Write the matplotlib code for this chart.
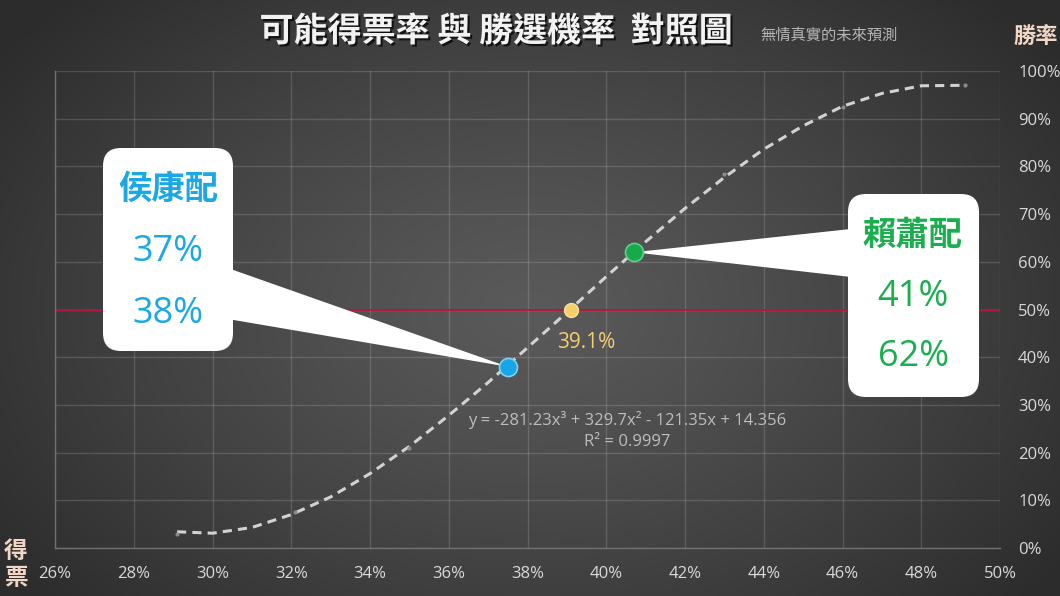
import matplotlib
matplotlib.use('Agg')
import matplotlib.pyplot as plt
import matplotlib.patheffects as pe
import matplotlib.transforms as mtransforms
from matplotlib.patches import FancyBboxPatch, Polygon
import numpy as np

# ---------------- data ----------------
vote_share = [29.1, 30, 31, 32, 33, 34, 35, 36, 37, 38, 39, 40, 41, 42, 43, 44, 45, 46, 47, 48, 49.1]
win_prob = [3.4, 3.1, 4.3, 7.0, 10.7, 15.6, 21.3, 27.8, 34.7, 42.0, 49.4, 56.9, 64.2, 71.2, 77.7, 83.6, 88.5, 92.6, 95.3, 96.9, 97.0]

sample_x = [29.1, 32.1, 35.0, 43.0, 46.0, 49.1]
sample_y = [3.0, 7.5, 21.0, 78.5, 92.4, 97.0]

hou_point = (37.5, 38.0)
even_point = (39.1, 50.0)
lai_point = (40.7, 62.0)

xticks = [26, 28, 30, 32, 34, 36, 38, 40, 42, 44, 46, 48, 50]
xtick_labels = ['26%', '28%', '30%', '32%', '34%', '36%', '38%', '40%', '42%', '44%', '46%', '48%', '50%']
yticks = [0, 10, 20, 30, 40, 50, 60, 70, 80, 90, 100]
ytick_labels = ['0%', '10%', '20%', '30%', '40%', '50%', '60%', '70%', '80%', '90%', '100%']

title = '可能得票率 與 勝選機率  對照圖'
subtitle = '無情真實的未來預測'
hou_name, hou_vote, hou_win = '侯康配', '37%', '38%'
lai_name, lai_vote, lai_win = '賴蕭配', '41%', '62%'
even_label = '39.1%'
eq_label = 'y = -281.23x³ + 329.7x² - 121.35x + 14.356'
r2_label = 'R² = 0.9997'

# ---------------- figure ----------------
plt.rcParams['font.family'] = ['Open Sans', 'Noto Sans CJK TC', 'DejaVu Sans']
CJK = ['Noto Sans CJK TC', 'DejaVu Sans']
W, H = 1060, 596
fig = plt.figure(figsize=(W / 100, H / 100), dpi=100)

# radial gradient background
bg = fig.add_axes([0, 0, 1, 1], zorder=0)
gx = np.linspace(0, 1, 530)
gy = np.linspace(0, 1, 298)
GX, GY = np.meshgrid(gx, gy)
r = np.sqrt(((GX - 0.50) / 0.62) ** 2 + ((GY - 0.52) / 0.75) ** 2)
r = np.clip(r, 0, 1)
c_in, c_out = 0x5a / 255, 0x2c / 255
val = c_in + (c_out - c_in) * r ** 1.2
img = np.dstack([val, val, val])
bg.imshow(img, extent=[0, 1, 0, 1], aspect='auto', origin='upper')
bg.set_xlim(0, 1)
bg.set_ylim(0, 1)
bg.axis('off')

ax = fig.add_axes([55 / W, 48 / H, 945 / W, 477 / H], zorder=1)
ax.set_facecolor('none')
ax.set_xlim(26, 50)
ax.set_ylim(0, 100)

ax.set_xticks(xticks)
ax.set_xticklabels(xtick_labels)
ax.set_yticks(yticks)
ax.set_yticklabels(ytick_labels)
ax.yaxis.tick_right()
ax.tick_params(axis='both', length=0, colors='#d9d9d9', labelsize=12)
ax.tick_params(axis='x', pad=13)
ax.tick_params(axis='y', pad=13)
ax.grid(True, color='#ffffff', alpha=0.15, lw=1.0)
for s in ['top', 'right']:
    ax.spines[s].set_visible(False)
for s in ['left', 'bottom']:
    ax.spines[s].set_color('#707070')
    ax.spines[s].set_linewidth(1.0)

# 50% line
ax.axhline(50, color='#b8143a', lw=1.3, zorder=2)

# dashed curve
ax.plot(vote_share, win_prob, color='#d2d2d2', lw=2.2, dashes=(3.0, 2.0), zorder=3,
        solid_capstyle='butt', dash_capstyle='butt')
ax.plot(sample_x, sample_y, 'o', ms=3, color='#8a8a8a', mec='none', zorder=3)

# pixel transform (top-left origin)
pix = mtransforms.Affine2D().scale(1 / W, -1 / H).translate(0, 1) + fig.transFigure


def to_pix(pt):
    dx, dy = ax.transData.transform(pt)
    fx, fy = fig.transFigure.inverted().transform((dx, dy))
    return fx * W, (1 - fy) * H


# callout boxes
hx, hy = to_pix(hou_point)
lx, ly = to_pix(lai_point)
box_l = FancyBboxPatch((103, 148), 130, 203, boxstyle='round,pad=0,rounding_size=18',
                       transform=pix, facecolor='white', edgecolor='none', zorder=4, clip_on=False)
wedge_l = Polygon([(222, 266), (222, 318), (hx, hy)], closed=True, transform=pix,
                  facecolor='white', edgecolor='none', zorder=4, clip_on=False)
box_r = FancyBboxPatch((848, 194), 131, 203, boxstyle='round,pad=0,rounding_size=18',
                       transform=pix, facecolor='white', edgecolor='none', zorder=4, clip_on=False)
wedge_r = Polygon([(860, 228), (860, 278), (lx, ly)], closed=True, transform=pix,
                  facecolor='white', edgecolor='none', zorder=4, clip_on=False)
for p in (wedge_l, wedge_r, box_l, box_r):
    ax.add_patch(p)

# key points
ax.plot(*hou_point, 'o', ms=13, color='#1aa6e6', mec='#7fd0f5', mew=1.2, zorder=6)
ax.plot(*even_point, 'o', ms=10, color='#f5cf6a', mec='#f9e2a0', mew=1.0, zorder=6)
ax.plot(*lai_point, 'o', ms=13, color='#17a94a', mec='#5fd088', mew=1.2, zorder=6)


def ftext(x, y, s, **kw):
    return fig.text(x / W, 1 - y / H, s, **kw)


blue = '#1ba8e4'
green = '#1aae4e'
ftext(168, 189, hou_name, ha='center', va='center', fontsize=24, fontweight='bold', color=blue, family=CJK, zorder=7)
ftext(168, 252, hou_vote, ha='center', va='center', fontsize=26, color=blue, zorder=7)
ftext(168, 314, hou_win, ha='center', va='center', fontsize=26, color=blue, zorder=7)
ftext(913, 235, lai_name, ha='center', va='center', fontsize=24, fontweight='bold', color=green, family=CJK, zorder=7)
ftext(913, 297, lai_vote, ha='center', va='center', fontsize=26, color=green, zorder=7)
ftext(913, 357, lai_win, ha='center', va='center', fontsize=26, color=green, zorder=7)

ftext(586, 342, even_label, ha='center', va='center', fontsize=15, color='#f3cf72', zorder=7)
ftext(627, 420, eq_label, ha='center', va='center', fontsize=12, color='#bdbdbd', zorder=7)
ftext(627, 442, r2_label, ha='center', va='center', fontsize=12, color='#bdbdbd', zorder=7)

# titles
ftext(496, 31, title, ha='center', va='center', fontsize=24.5, fontweight='bold', color='#f2f2f2', family=CJK,
      path_effects=[pe.withSimplePatchShadow(offset=(1.5, -1.5), shadow_rgbFace='black', alpha=0.7)])
ftext(760, 35, subtitle, ha='left', va='center', fontsize=11, color='#b5b5b5', family=CJK)
ftext(1058, 36, '勝率', ha='right', va='center', fontsize=16, fontweight='bold', color='#f1d6c6', family=CJK)
ftext(16, 551, '得', ha='center', va='center', fontsize=17, fontweight='bold', color='#f1d6c6', family=CJK)
ftext(16, 578, '票', ha='center', va='center', fontsize=17, fontweight='bold', color='#f1d6c6', family=CJK)

fig.savefig('out.png', dpi=100)
